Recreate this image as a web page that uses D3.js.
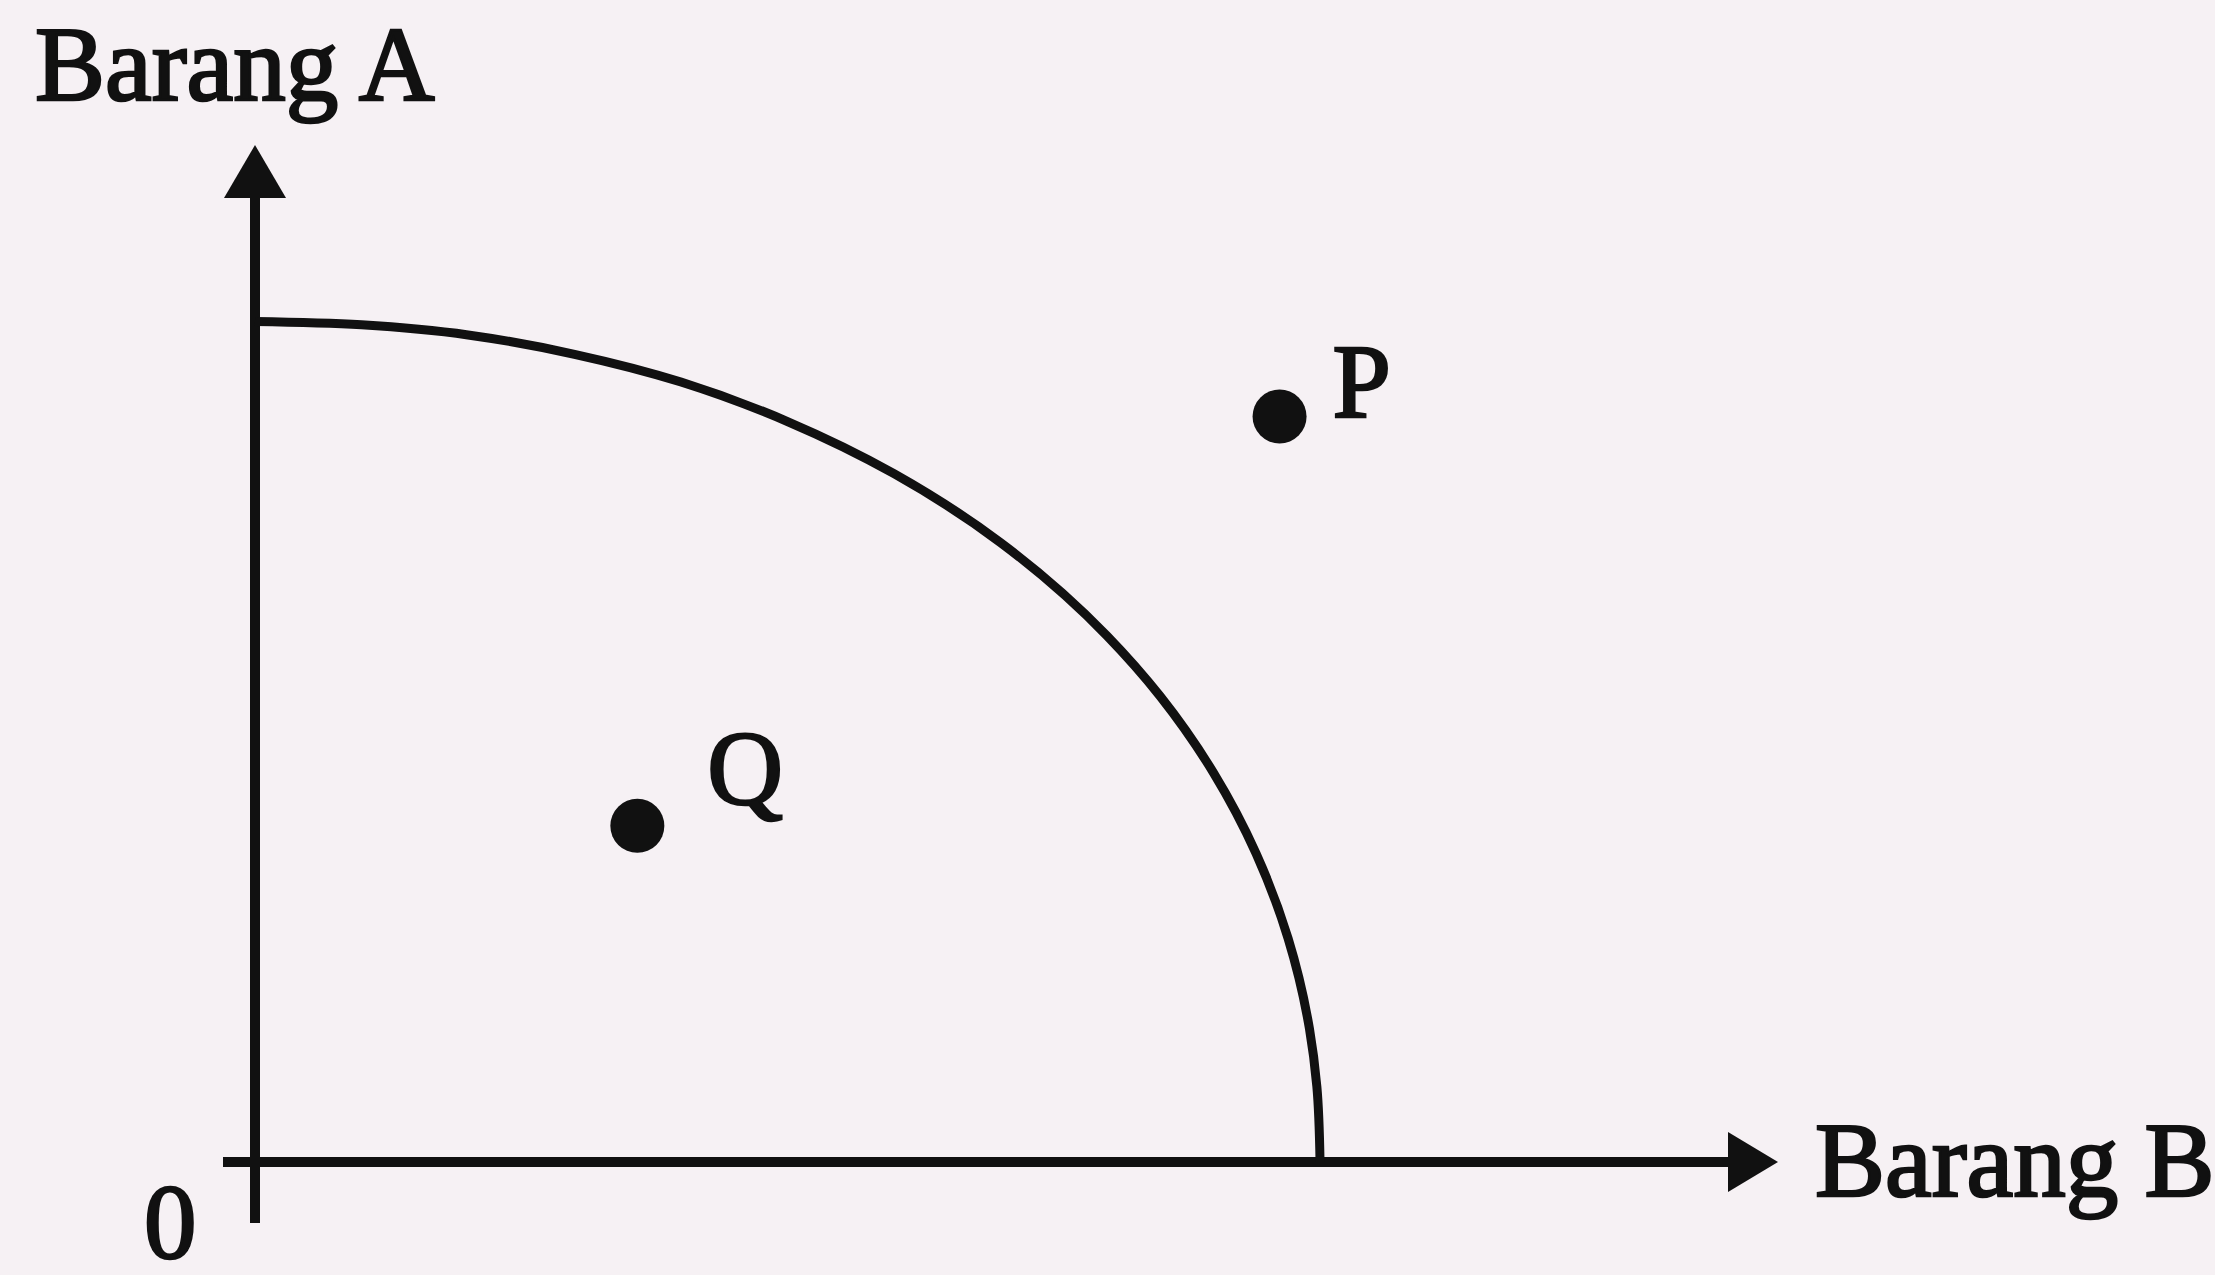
<!DOCTYPE html>
<meta charset='utf-8'>
<style>
body { margin: 0; background: #f6f1f4; }
text {
  font-family: 'Liberation Serif', 'DejaVu Serif', serif;
  font-size: 105px;
  fill: #111;
  stroke: #111;
  stroke-width: 2.6;
}
</style>
<svg width='2215' height='1275'></svg>
<script src='https://d3js.org/d3.v7.min.js'></script>
<script>

// production possibility curve (Barang B, Barang A)
var curveB = [0, 1, 2, 3, 4, 5, 6, 7, 8, 8.5, 9, 9.4, 9.7, 9.9, 9.97, 10];
var curveA = [10, 9.96, 9.84, 9.61, 9.28, 8.81, 8.19, 7.37, 6.26, 5.54, 4.63, 3.67, 2.66, 1.59, 0.9, 0];

var pointNames = ['P', 'Q'];
var pointB = [9.62, 3.59];
var pointA = [8.87, 4.0];

var axisLabels = ['Barang A', 'Barang B'];
var originLabel = '0';

var svg = d3.select('svg'),
    width = +svg.attr('width'),
    height = +svg.attr('height');

var x = d3.scaleLinear().domain([0, 14.3]).range([255, 1778]),
    y = d3.scaleLinear().domain([0, 12.1]).range([1162, 145]);

var ink = '#111';

// axes
svg.append('line')
    .attr('x1', x(0)).attr('x2', x(0))
    .attr('y1', y(0) + 61).attr('y2', y.range()[1] + 40)
    .attr('stroke', ink).attr('stroke-width', 10);

svg.append('line')
    .attr('x1', x(0) - 32).attr('x2', x.range()[1] - 40)
    .attr('y1', y(0)).attr('y2', y(0))
    .attr('stroke', ink).attr('stroke-width', 10);

// arrow heads
var ty = y.range()[1], tx = x.range()[1];
svg.append('path')
    .attr('d', 'M' + x(0) + ',' + ty + 'L' + (x(0) + 31) + ',' + (ty + 53) + 'L' + (x(0) - 31) + ',' + (ty + 53) + 'Z')
    .attr('fill', ink);
svg.append('path')
    .attr('d', 'M' + tx + ',' + y(0) + 'L' + (tx - 50) + ',' + (y(0) - 30) + 'L' + (tx - 50) + ',' + (y(0) + 30) + 'Z')
    .attr('fill', ink);

// curve
var line = d3.line()
    .x(function(d) { return x(d[0]); })
    .y(function(d) { return y(d[1]); })
    .curve(d3.curveCatmullRom.alpha(1));

svg.append('path')
    .datum(d3.zip(curveB, curveA))
    .attr('d', line)
    .attr('fill', 'none')
    .attr('stroke', ink)
    .attr('stroke-width', 9);

// points
var pts = pointNames.map(function(n, i) { return { name: n, b: pointB[i], a: pointA[i] }; });

svg.selectAll('circle')
    .data(pts)
    .enter()
    .append('circle')
    .attr('cx', function(d) { return x(d.b); })
    .attr('cy', function(d) { return y(d.a); })
    .attr('r', 27)
    .attr('fill', ink);

svg.selectAll('.plabel')
    .data(pts)
    .enter()
    .append('text')
    .attr('class', 'plabel')
    .attr('x', function(d) { return x(d.b) + (d.name == 'P' ? 53 : 70); })
    .attr('y', function(d) { return y(d.a) + (d.name == 'P' ? 1 : -22); })
    .text(function(d) { return d.name; });

// labels
svg.append('text').attr('x', 35).attr('y', 100).text(axisLabels[0]);
svg.append('text').attr('x', 1815).attr('y', 1196).text(axisLabels[1]);
svg.append('text').attr('x', 144).attr('y', 1258).text(originLabel);

</script>
